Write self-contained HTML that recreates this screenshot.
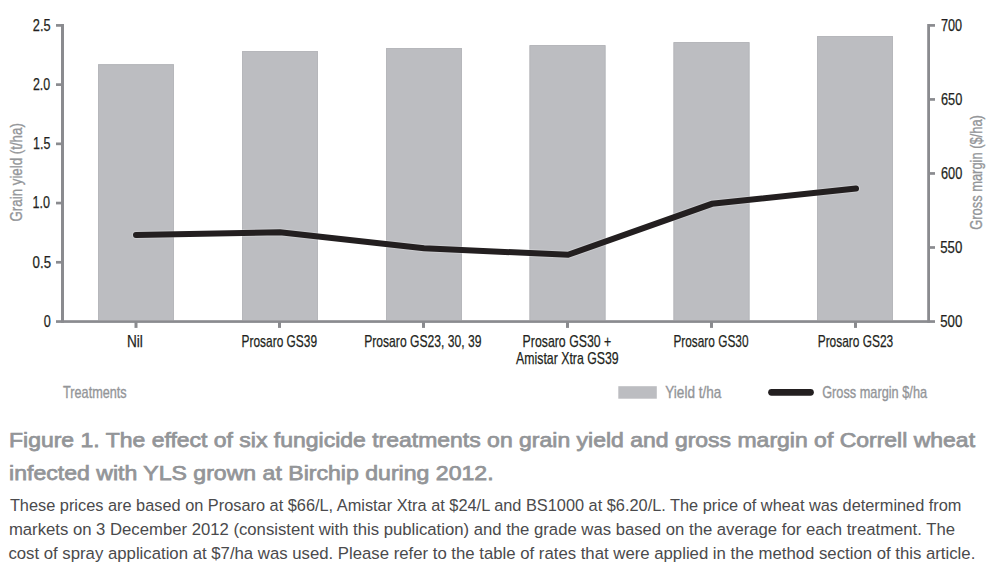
<!DOCTYPE html>
<html><head><meta charset="utf-8">
<style>
html,body{margin:0;padding:0;background:#fff;}
body{width:988px;height:571px;overflow:hidden;}
svg{display:block;}
text{font-family:"Liberation Sans",sans-serif;}
</style></head>
<body>
<svg width="988" height="571" viewBox="0 0 988 571" overflow="visible">
<rect x="0" y="0" width="988" height="571" fill="#fff"/>
<g id="bars" fill="#bcbdc1">
<rect x="98" y="64.2" width="76" height="256.0"/>
<path d="M98.5,320.2 V64.7 H173.5 V320.2" fill="none" stroke="#b6b7bb" stroke-width="1"/>
<rect x="242" y="51" width="76" height="269.2"/>
<path d="M242.5,320.2 V51.5 H317.5 V320.2" fill="none" stroke="#b6b7bb" stroke-width="1"/>
<rect x="386" y="48" width="76" height="272.2"/>
<path d="M386.5,320.2 V48.5 H461.5 V320.2" fill="none" stroke="#b6b7bb" stroke-width="1"/>
<rect x="529.5" y="45" width="76" height="275.2"/>
<path d="M530.0,320.2 V45.5 H605.0 V320.2" fill="none" stroke="#b6b7bb" stroke-width="1"/>
<rect x="673.5" y="42" width="76" height="278.2"/>
<path d="M674.0,320.2 V42.5 H749.0 V320.2" fill="none" stroke="#b6b7bb" stroke-width="1"/>
<rect x="817" y="36" width="76" height="284.2"/>
<path d="M817.5,320.2 V36.5 H892.5 V320.2" fill="none" stroke="#b6b7bb" stroke-width="1"/>
</g>
<g id="axes" fill="#8a8b8f">
<rect x="61" y="24" width="3" height="298.8"/>
<rect x="927.2" y="24" width="2.8" height="298.8"/>
<rect x="56" y="320.2" width="879" height="2.7"/>
<rect x="56" y="24.05" width="5" height="2.7"/>
<rect x="56" y="83.27" width="5" height="2.7"/>
<rect x="56" y="142.49" width="5" height="2.7"/>
<rect x="56" y="201.71" width="5" height="2.7"/>
<rect x="56" y="260.93" width="5" height="2.7"/>
<rect x="930" y="24.05" width="5" height="2.7"/>
<rect x="930" y="98.08" width="5" height="2.7"/>
<rect x="930" y="172.11" width="5" height="2.7"/>
<rect x="930" y="246.14" width="5" height="2.7"/>
<rect x="134.5" y="322" width="3" height="5.9"/>
<rect x="278.0" y="322" width="3" height="5.9"/>
<rect x="422.0" y="322" width="3" height="5.9"/>
<rect x="566.0" y="322" width="3" height="5.9"/>
<rect x="710.0" y="322" width="3" height="5.9"/>
<rect x="854.0" y="322" width="3" height="5.9"/>
</g>
<polyline id="halo" points="136,234.9 280,232.2 424,248.2 568,254.8 712,203.8 856,188.5" fill="none" stroke="#fff" stroke-opacity="0.22" stroke-width="8" stroke-linecap="round" stroke-linejoin="miter"/>
<polyline id="gm" points="136,234.9 280,232.2 424,248.2 568,254.8 712,203.8 856,188.5" fill="none" stroke="#231f20" stroke-width="6" stroke-linecap="round" stroke-linejoin="miter"/>
<rect id="lgbox" x="618.3" y="386.2" width="38.5" height="12.5" fill="#bcbdc1"/>
<line id="lgline" x1="771.5" y1="392.3" x2="810.5" y2="392.3" stroke="#231f20" stroke-width="6.7" stroke-linecap="round"/>
<text id="l25" x="32.80" y="30.80" font-size="17" stroke="#231f20" stroke-width="0.25" fill="#231f20" textLength="17.78" lengthAdjust="spacingAndGlyphs">2.5</text>
<text id="l20" x="32.90" y="90.00" font-size="17" stroke="#231f20" stroke-width="0.25" fill="#231f20" textLength="17.24" lengthAdjust="spacingAndGlyphs">2.0</text>
<text id="l15" x="32.96" y="149.20" font-size="17" stroke="#231f20" stroke-width="0.25" fill="#231f20" textLength="17.41" lengthAdjust="spacingAndGlyphs">1.5</text>
<text id="l10" x="32.46" y="208.40" font-size="17" stroke="#231f20" stroke-width="0.25" fill="#231f20" textLength="17.47" lengthAdjust="spacingAndGlyphs">1.0</text>
<text id="l05" x="32.60" y="267.60" font-size="17" stroke="#231f20" stroke-width="0.25" fill="#231f20" textLength="18.40" lengthAdjust="spacingAndGlyphs">0.5</text>
<text id="l00" x="43.80" y="327.00" font-size="17" stroke="#231f20" stroke-width="0.25" fill="#231f20" textLength="7.05" lengthAdjust="spacingAndGlyphs">0</text>
<text id="r700" x="941.00" y="30.90" font-size="17" stroke="#231f20" stroke-width="0.25" fill="#231f20" textLength="21.08" lengthAdjust="spacingAndGlyphs">700</text>
<text id="r650" x="941.00" y="104.90" font-size="17" stroke="#231f20" stroke-width="0.25" fill="#231f20" textLength="21.28" lengthAdjust="spacingAndGlyphs">650</text>
<text id="r600" x="941.00" y="178.90" font-size="17" stroke="#231f20" stroke-width="0.25" fill="#231f20" textLength="21.28" lengthAdjust="spacingAndGlyphs">600</text>
<text id="r550" x="940.22" y="253.00" font-size="17" stroke="#231f20" stroke-width="0.25" fill="#231f20" textLength="22.07" lengthAdjust="spacingAndGlyphs">550</text>
<text id="r500" x="940.22" y="327.00" font-size="17" stroke="#231f20" stroke-width="0.25" fill="#231f20" textLength="22.07" lengthAdjust="spacingAndGlyphs">500</text>
<text id="tl" transform="translate(21.90,221.48) rotate(-90)" x="0" y="0" font-size="17" stroke="#939598" stroke-width="0.35" fill="#939598" textLength="98.31" lengthAdjust="spacingAndGlyphs">Grain yield (t/ha)</text>
<text id="tr" transform="translate(982.00,229.76) rotate(-90)" x="0" y="0" font-size="17" stroke="#939598" stroke-width="0.35" fill="#939598" textLength="114.65" lengthAdjust="spacingAndGlyphs">Gross margin ($/ha)</text>
<text id="c1" x="127.00" y="346.80" font-size="17" stroke="#231f20" stroke-width="0.25" fill="#231f20" textLength="15.87" lengthAdjust="spacingAndGlyphs">Nil</text>
<text id="c2" x="241.60" y="346.80" font-size="17" stroke="#231f20" stroke-width="0.25" fill="#231f20" textLength="75.41" lengthAdjust="spacingAndGlyphs">Prosaro GS39</text>
<text id="c3" x="364.19" y="346.80" font-size="17" stroke="#231f20" stroke-width="0.25" fill="#231f20" textLength="117.22" lengthAdjust="spacingAndGlyphs">Prosaro GS23, 30, 39</text>
<text id="c4a" x="522.58" y="346.80" font-size="17" stroke="#231f20" stroke-width="0.25" fill="#231f20" textLength="88.70" lengthAdjust="spacingAndGlyphs">Prosaro GS30 +</text>
<text id="c4b" x="516.10" y="364.20" font-size="17" stroke="#231f20" stroke-width="0.25" fill="#231f20" textLength="102.62" lengthAdjust="spacingAndGlyphs">Amistar Xtra GS39</text>
<text id="c5" x="673.40" y="346.80" font-size="17" stroke="#231f20" stroke-width="0.25" fill="#231f20" textLength="75.11" lengthAdjust="spacingAndGlyphs">Prosaro GS30</text>
<text id="c6" x="817.70" y="346.80" font-size="17" stroke="#231f20" stroke-width="0.25" fill="#231f20" textLength="75.52" lengthAdjust="spacingAndGlyphs">Prosaro GS23</text>
<text id="tre" x="63.10" y="397.70" font-size="17" stroke="#939598" stroke-width="0.35" fill="#939598" textLength="63.56" lengthAdjust="spacingAndGlyphs">Treatments</text>
<text id="lg1" x="665.30" y="397.70" font-size="17" stroke="#939598" stroke-width="0.35" fill="#939598" textLength="56.00" lengthAdjust="spacingAndGlyphs">Yield t/ha</text>
<text id="lg2" x="822.15" y="397.70" font-size="17" stroke="#939598" stroke-width="0.35" fill="#939598" textLength="104.93" lengthAdjust="spacingAndGlyphs">Gross margin $/ha</text>
<text id="cap1" x="9.01" y="446.50" font-size="21" stroke="#939598" stroke-width="0.75" fill="#939598" textLength="966.02" lengthAdjust="spacingAndGlyphs">Figure 1. The effect of six fungicide treatments on grain yield and gross margin of Correll wheat</text>
<text id="cap2" x="9.00" y="480.00" font-size="21" stroke="#939598" stroke-width="0.75" fill="#939598" textLength="484.58" lengthAdjust="spacingAndGlyphs">infected with YLS grown at Birchip during 2012.</text>
<text id="b1" x="9.90" y="510.70" font-size="16.8" fill="#4a4a4c" textLength="951.59" lengthAdjust="spacingAndGlyphs">These prices are based on Prosaro at $66/L, Amistar Xtra at $24/L and BS1000 at $6.20/L. The price of wheat was determined from</text>
<text id="b2" x="8.91" y="534.80" font-size="16.8" fill="#4a4a4c" textLength="946.08" lengthAdjust="spacingAndGlyphs">markets on 3 December 2012 (consistent with this publication) and the grade was based on the average for each treatment. The</text>
<text id="b3" x="8.40" y="558.90" font-size="16.8" fill="#4a4a4c" textLength="966.91" lengthAdjust="spacingAndGlyphs">cost of spray application at $7/ha was used. Please refer to the table of rates that were applied in the method section of this article.</text>
</svg>
</body></html>
